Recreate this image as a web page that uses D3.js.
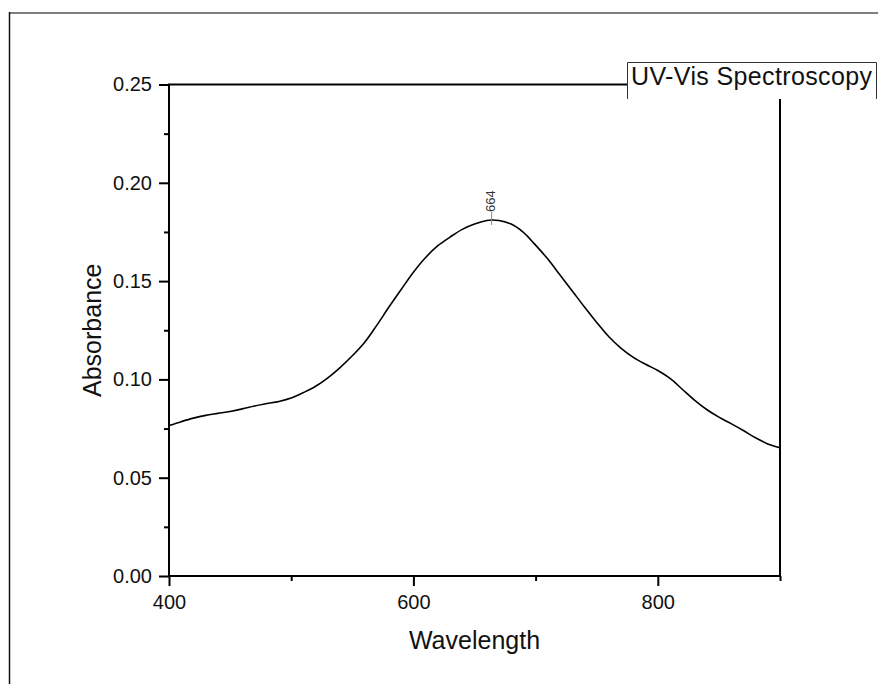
<!DOCTYPE html>
<html>
<head>
<meta charset="utf-8">
<script src="https://cdn.jsdelivr.net/npm/d3@7"></script>
<style>
  body { margin: 0; background: #fff; }
  svg { font-family: "Liberation Sans", Arial, sans-serif; }
</style>
</head>
<body>
<svg width="878" height="684"></svg>
<script>
// data
var wavelength = [400, 410, 420, 430, 440, 450, 460, 470, 480, 490,
                  500, 510, 520, 530, 540, 550, 560, 570, 580, 590,
                  600, 610, 620, 630, 640, 650, 660, 664, 670, 680, 690,
                  700, 710, 720, 730, 740, 750, 760, 770, 780, 790,
                  800, 810, 820, 830, 840, 850, 860, 870, 880, 890, 900];
var absorbance = [0.0765, 0.0785, 0.0803, 0.0817, 0.0827, 0.0837, 0.0850, 0.0865, 0.0877, 0.0888,
                  0.0905, 0.0933, 0.0965, 0.1008, 0.1060, 0.1120, 0.1188, 0.1275, 0.1368, 0.1457,
                  0.1545, 0.1620, 0.1680, 0.1724, 0.1763, 0.1790, 0.1808, 0.1811, 0.1808, 0.1790, 0.1748,
                  0.1683, 0.1612, 0.1531, 0.1450, 0.1368, 0.1290, 0.1217, 0.1158, 0.1112, 0.1077,
                  0.1045, 0.1005, 0.0950, 0.0895, 0.0847, 0.0808, 0.0775, 0.0740, 0.0703, 0.0672, 0.0652];
var xTicks = [400, 600, 800];
var xMinor = [500, 700, 900];
var yTicks = [0, 0.05, 0.10, 0.15, 0.20, 0.25];
var yMinor = [0.025, 0.075, 0.125, 0.175, 0.225];
var peakX = 664, peakLabel = "664";
var title = "UV-Vis Spectroscopy";

var width = 878, height = 684;
var margin = {left: 169, right: 98, top: 84.5, bottom: 108};

var xScale = d3.scaleLinear().domain([400, 900]).range([margin.left, width - margin.right]);
var yScale = d3.scaleLinear().domain([0, 0.25]).range([height - margin.bottom, margin.top]);

var svg = d3.select("svg");

// outer frame (top + left only visible)
svg.append("line").attr("x1", 9).attr("x2", width).attr("y1", 13).attr("y2", 13)
   .attr("stroke", "#555").attr("stroke-width", 1.5);
svg.append("line").attr("x1", 9.5).attr("x2", 9.5).attr("y1", 12).attr("y2", height)
   .attr("stroke", "#111").attr("stroke-width", 1.5);

// plot frame
svg.append("rect")
   .attr("x", xScale(400)).attr("y", yScale(0.25))
   .attr("width", xScale(900) - xScale(400)).attr("height", yScale(0) - yScale(0.25))
   .attr("fill", "none").attr("stroke", "#000").attr("stroke-width", 2);

// axes
var x_axis = d3.axisBottom(xScale).tickValues(xTicks).tickSize(10).tickSizeOuter(0).tickPadding(9);
var x_minor = d3.axisBottom(xScale).tickValues(xMinor).tickSize(5).tickSizeOuter(0).tickFormat("");
var y_axis = d3.axisLeft(yScale).tickValues(yTicks).tickSize(10).tickSizeOuter(0).tickPadding(7)
               .tickFormat(d3.format(".2f"));
var y_minor = d3.axisLeft(yScale).tickValues(yMinor).tickSize(5).tickSizeOuter(0).tickFormat("");

svg.append("g").attr("transform", "translate(0," + yScale(0) + ")").call(x_axis);
svg.append("g").attr("transform", "translate(0," + yScale(0) + ")").call(x_minor);
svg.append("g").attr("transform", "translate(" + xScale(400) + ",0)").call(y_axis);
svg.append("g").attr("transform", "translate(" + xScale(400) + ",0)").call(y_minor);

svg.selectAll(".domain").remove();
svg.selectAll(".tick line").attr("stroke", "#000").attr("stroke-width", 2);
svg.selectAll(".tick text").attr("font-size", 20).attr("fill", "#111")
   .attr("font-family", "'Liberation Sans', Arial, sans-serif");

// axis titles
svg.append("text").attr("x", (xScale(400) + xScale(900)) / 2).attr("y", 649)
   .attr("text-anchor", "middle").attr("font-size", 25).attr("fill", "#111").text("Wavelength");
svg.append("text").attr("transform", "translate(101," + yScale(0.125) + ") rotate(-90)")
   .attr("text-anchor", "middle").attr("font-size", 25).attr("fill", "#111").text("Absorbance");

// spectrum
var line = d3.line()
  .x(function(d, i) { return xScale(wavelength[i]); })
  .y(function(d) { return yScale(d); })
  .curve(d3.curveCatmullRom);

svg.append("path").datum(absorbance)
   .attr("d", line).attr("fill", "none").attr("stroke", "#000").attr("stroke-width", 1.6);

// peak marker
var peakY = yScale(absorbance[wavelength.indexOf(peakX)]);
svg.append("line").attr("x1", xScale(peakX)).attr("x2", xScale(peakX))
   .attr("y1", peakY - 8).attr("y2", peakY + 5)
   .attr("stroke", "#888").attr("stroke-width", 1);
svg.append("text").attr("transform", "translate(" + xScale(peakX) + "," + (peakY - 8) + ") rotate(-90)")
   .attr("dominant-baseline", "middle").attr("font-size", 13).attr("fill", "#333").text(peakLabel);

// title box
var box = svg.append("g");
box.append("rect").attr("x", 627).attr("y", 62).attr("width", 249).attr("height", 37).attr("fill", "#fff");
box.append("path").attr("d", "M627.5,99V62.5H876.5V99")
   .attr("fill", "none").attr("stroke", "#333").attr("stroke-width", 1);
box.append("text").attr("x", 631).attr("y", 85).attr("font-size", 25).attr("fill", "#111")
   .attr("textLength", 241).text(title);
</script>
</body>
</html>
